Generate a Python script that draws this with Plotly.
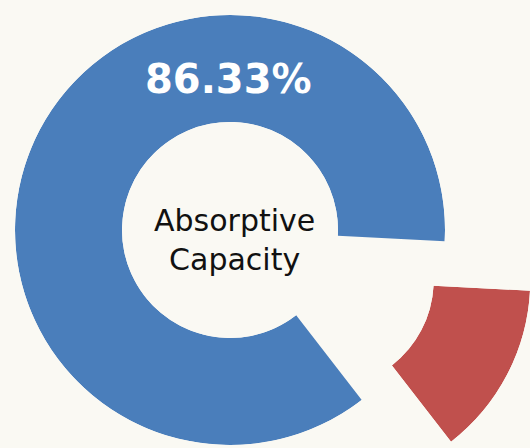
import plotly.graph_objects as go
import math

# ---- data ----
labels = ["Absorptive Capacity", "Remainder"]
values = [86.33, 13.67]
center_label = "Absorptive<br>Capacity"
colors = ["#4A7EBB", "#C0504D"]

# ---- layout geometry (pixels) ----
W, H = 530, 448
BG = "#FAF9F3"
start_deg = -3.0          # screen angle where the first slice begins (ccw from 3 o'clock)
cx, cy = 230.0, 230.0     # donut centre (pixels from top-left)
r_out, r_in = 215.0, 108.0
pull_px = 108.0

total = sum(values)
spans = [v / total * 360.0 for v in values]

fig = go.Figure()

# main (blue) slice in a full-circle polar subplot
fig.add_trace(go.Barpolar(
    r=[1], theta=[start_deg + spans[0] / 2], width=[spans[0]],
    marker=dict(color=colors[0], line=dict(width=0)),
    name=labels[0], subplot="polar", showlegend=False,
    hovertemplate=labels[0] + ": %{customdata:.2f}%<extra></extra>",
    customdata=[values[0]],
))

# exploded (red) slice in a sector polar subplot
red_a0 = start_deg + spans[0] - 360.0
red_a1 = start_deg
red_mid = (red_a0 + red_a1) / 2
fig.add_trace(go.Barpolar(
    r=[1], theta=[red_mid], width=[spans[1]],
    marker=dict(color=colors[1], line=dict(width=0)),
    name=labels[1], subplot="polar2", showlegend=False,
    hovertemplate=labels[1] + ": %{customdata:.2f}%<extra></extra>",
    customdata=[values[1]],
))

# domains
d1x = [(cx - r_out) / W, (cx + r_out) / W]
d1y = [1 - (cy + r_out) / H, 1 - (cy - r_out) / H]

rcx = cx + pull_px * math.cos(math.radians(red_mid))
rcy = cy - pull_px * math.sin(math.radians(red_mid))
a0, a1 = math.radians(red_a0), math.radians(red_a1)
bx1 = max(math.cos(a0), math.cos(a1))
by0 = min(math.sin(a0), math.sin(a1))
r2 = min((W - rcx) / bx1, (H - rcy) / (-by0))
d2x = [rcx / W, min(1.0, (rcx + r2 * bx1) / W)]
d2y = [max(0.0, 1 - (rcy - by0 * r2) / H), 1 - rcy / H]

axis_off = dict(visible=False, showgrid=False, showline=False, showticklabels=False, ticks="")
fig.update_layout(
    width=W, height=H, autosize=False,
    margin=dict(l=0, r=0, t=0, b=0, pad=0),
    paper_bgcolor=BG, plot_bgcolor=BG,
    polar=dict(
        domain=dict(x=d1x, y=d1y), hole=r_in / r_out, bgcolor="rgba(0,0,0,0)",
        radialaxis=dict(range=[0, 1], **axis_off),
        angularaxis=dict(rotation=0, direction="counterclockwise", **axis_off),
        bargap=0,
    ),
    polar2=dict(
        domain=dict(x=d2x, y=d2y), hole=r_in / r2, bgcolor="rgba(0,0,0,0)",
        sector=[red_a0, red_a1],
        radialaxis=dict(range=[0, 1], **axis_off),
        angularaxis=dict(rotation=0, direction="counterclockwise", **axis_off),
        bargap=0,
    ),
    annotations=[
        dict(text=f"{values[0]:.2f}%", x=228 / W, y=1 - 79 / H, xref="paper", yref="paper",
             showarrow=False, xanchor="center", yanchor="middle",
             font=dict(family="DejaVu Sans", size=40, color="white", weight="bold")),
        dict(text=center_label, x=234 / W, y=1 - 240 / H, xref="paper", yref="paper",
             showarrow=False, xanchor="center", yanchor="middle",
             font=dict(family="DejaVu Sans", size=30, color="#111111")),
    ],
)

fig.write_html(
    "out.html",
    config={"displayModeBar": False},
    post_script="document.body.style.margin='0';document.body.style.padding='0';"
                "document.body.style.overflow='hidden';document.body.style.background='" + BG + "';",
)
